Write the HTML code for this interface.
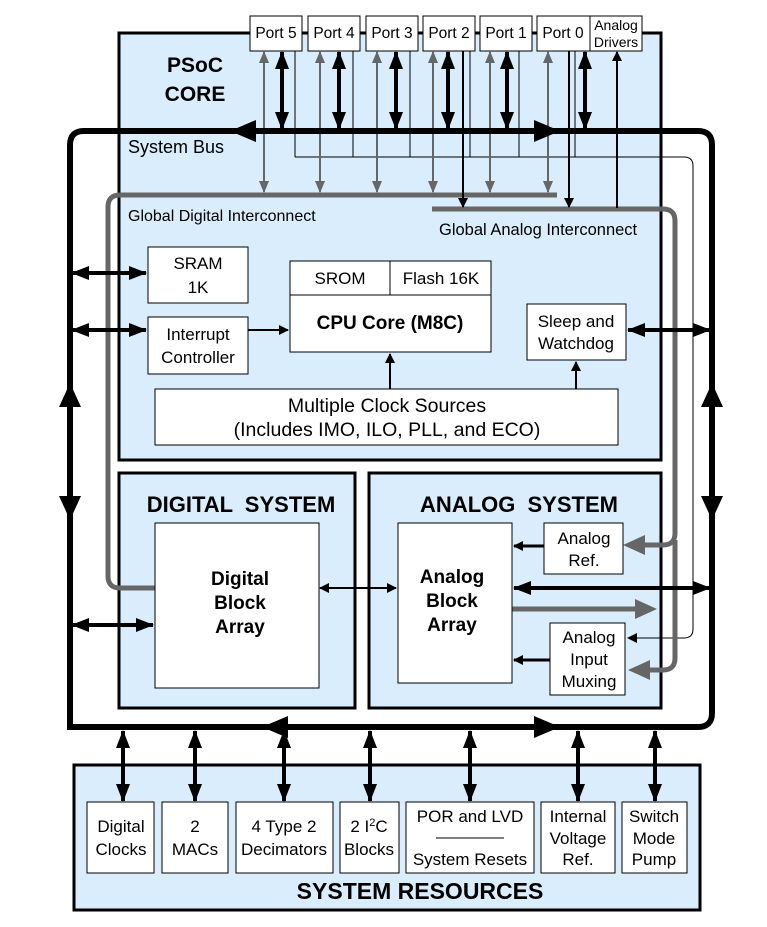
<!DOCTYPE html>
<html><head><meta charset="utf-8"><style>
html,body{margin:0;padding:0;background:#fff;}
svg{display:block;font-family:"Liberation Sans",Arial,sans-serif;}
</style></head><body>
<svg width="767" height="927" viewBox="0 0 767 927" xmlns="http://www.w3.org/2000/svg">
<defs>
<marker id="bk" markerUnits="userSpaceOnUse" markerWidth="18" markerHeight="14" refX="17" refY="7" orient="auto-start-reverse"><path d="M0,0 L18,7 L0,14 Z" fill="#000"/></marker>
<marker id="gy" markerUnits="userSpaceOnUse" markerWidth="12" markerHeight="10" refX="11" refY="5" orient="auto-start-reverse"><path d="M0,0 L12,5 L0,10 Z" fill="#666"/></marker>
<marker id="sm" markerUnits="userSpaceOnUse" markerWidth="10" markerHeight="10" refX="9" refY="5" orient="auto-start-reverse"><path d="M0,0 L10,5 L0,10 Z" fill="#000"/></marker>
</defs>

<rect x="119" y="33" width="542" height="427" fill="#d9edfc" stroke="#000" stroke-width="3"/>
<rect x="119" y="473" width="236" height="235" fill="#d9edfc" stroke="#000" stroke-width="3"/>
<rect x="369" y="473" width="292" height="235" fill="#d9edfc" stroke="#000" stroke-width="3"/>
<rect x="74" y="765" width="626" height="145" fill="#d9edfc" stroke="#000" stroke-width="3"/>

<g fill="#fff" stroke="#000" stroke-width="1">
<rect x="250" y="16" width="52" height="35"/><rect x="308" y="16" width="52" height="35"/>
<rect x="366" y="16" width="52" height="35"/><rect x="423" y="16" width="52" height="35"/>
<rect x="480" y="16" width="52" height="35"/><rect x="537" y="16" width="53" height="35"/>
<rect x="590" y="16" width="52" height="35"/>
</g>
<g font-size="15.5" text-anchor="middle">
<text x="276" y="38">Port 5</text><text x="334" y="38">Port 4</text><text x="392" y="38">Port 3</text>
<text x="449" y="38">Port 2</text><text x="506" y="38">Port 1</text><text x="563" y="38">Port 0</text>
<text x="616" y="30" font-size="14">Analog</text><text x="616" y="47" font-size="14">Drivers</text>
</g>

<text x="195" y="72" font-size="21" font-weight="bold" text-anchor="middle">PSoC</text>
<text x="195" y="101" font-size="21" font-weight="bold" text-anchor="middle">CORE</text>
<text x="128" y="153" font-size="18">System Bus</text>
<text x="128" y="221" font-size="16">Global Digital Interconnect</text>
<text x="439" y="235" font-size="16.5">Global Analog Interconnect</text>

<g stroke="#000" stroke-width="1" fill="none">
<path d="M295,51 V157 M353,51 V157 M410,51 V157 M470,51 V157 M519,51 V157 M575,51 V157"/>
<path d="M295,157 H684 Q693,157 693,166 V629 Q693,638 684,638 H628" marker-end="url(#sm)"/>
</g>

<g stroke="#666" stroke-width="5" fill="none">
<path d="M557,195 H120 Q108,195 108,207 V576 Q108,588 120,588 H155"/>
<path d="M432,209 H663 Q675,209 675,221 V533 Q675,545 663,545 H640"/>
<path d="M675,540 V658 Q675,670 663,670 H640"/>
<path d="M512,609 H640"/>
</g>
<g fill="#666">
<path d="M623,545 L645,535 L645,555 Z"/>
<path d="M628,670 L650,660 L650,680 Z"/>
<path d="M657,609 L635,599 L635,619 Z"/>
</g>

<g stroke="#666" stroke-width="2" marker-start="url(#gy)" marker-end="url(#gy)">
<line x1="264" y1="52" x2="264" y2="192"/><line x1="320" y1="52" x2="320" y2="192"/>
<line x1="377" y1="52" x2="377" y2="192"/><line x1="433" y1="52" x2="433" y2="192"/>
<line x1="490" y1="52" x2="490" y2="192"/><line x1="548" y1="52" x2="548" y2="192"/>
</g>

<path d="M70,727 V145 Q70,131 84,131 H698 Q712,131 712,145 V713 Q712,727 698,727 Z" fill="none" stroke="#000" stroke-width="6"/>
<g fill="#000">
<path d="M230,131 L256,120 L256,142 Z"/><path d="M560,131 L534,120 L534,142 Z"/>
<path d="M262,727 L288,716 L288,738 Z"/><path d="M560,727 L534,716 L534,738 Z"/>
<path d="M70,383 L59,407 L81,407 Z"/><path d="M70,520 L59,496 L81,496 Z"/>
<path d="M712,383 L701,407 L723,407 Z"/><path d="M712,520 L701,496 L723,496 Z"/>
</g>

<g stroke="#000" stroke-width="4" marker-start="url(#bk)" marker-end="url(#bk)">
<line x1="282" y1="52" x2="282" y2="129"/><line x1="339" y1="52" x2="339" y2="129"/>
<line x1="396" y1="52" x2="396" y2="129"/><line x1="448" y1="52" x2="448" y2="129"/>
<line x1="507" y1="52" x2="507" y2="129"/><line x1="585" y1="52" x2="585" y2="129"/>
</g>
<g stroke="#000" stroke-width="2">
<line x1="463" y1="51" x2="463" y2="207" marker-end="url(#sm)"/>
<line x1="569" y1="51" x2="569" y2="207" marker-end="url(#sm)"/>
<line x1="617" y1="208" x2="617" y2="52" marker-end="url(#sm)"/>
</g>

<g fill="#fff" stroke="#000" stroke-width="1">
<rect x="148" y="247" width="100" height="56"/>
<rect x="148" y="317" width="100" height="57"/>
<rect x="290" y="261" width="201" height="91"/>
<line x1="290" y1="295" x2="491" y2="295"/><line x1="390" y1="261" x2="390" y2="295"/>
<rect x="527" y="304" width="99" height="56"/>
<rect x="155" y="389" width="463" height="56"/>
</g>
<g font-size="17" text-anchor="middle">
<text x="198" y="269">SRAM</text><text x="198" y="293">1K</text>
<text x="198" y="340">Interrupt</text><text x="198" y="363">Controller</text>
<text x="340" y="284">SROM</text><text x="441" y="284">Flash 16K</text>
<text x="390" y="329" font-weight="bold" font-size="19">CPU Core (M8C)</text>
<text x="576" y="327">Sleep and</text><text x="576" y="349">Watchdog</text>
<text x="387" y="412" font-size="19.5">Multiple Clock Sources</text>
<text x="387" y="436" font-size="19.5">(Includes IMO, ILO, PLL, and ECO)</text>
</g>
<g stroke="#000" stroke-width="2">
<line x1="248" y1="330" x2="288" y2="330" marker-end="url(#sm)"/>
<line x1="390" y1="389" x2="390" y2="354" marker-end="url(#sm)"/>
<line x1="576" y1="389" x2="576" y2="362" marker-end="url(#sm)"/>
</g>
<g stroke="#000" stroke-width="4" marker-start="url(#bk)" marker-end="url(#bk)">
<line x1="72" y1="273" x2="146" y2="273"/>
<line x1="72" y1="330" x2="146" y2="330"/>
<line x1="628" y1="330" x2="710" y2="330"/>
<line x1="72" y1="625" x2="153" y2="625"/>
<line x1="514" y1="588" x2="710" y2="588"/>
</g>

<text x="241" y="512" font-size="22" font-weight="bold" text-anchor="middle" word-spacing="6">DIGITAL SYSTEM</text>
<text x="519" y="512" font-size="22" font-weight="bold" text-anchor="middle" word-spacing="6">ANALOG SYSTEM</text>
<g fill="#fff" stroke="#000" stroke-width="1">
<rect x="155" y="523" width="164" height="165"/>
<rect x="398" y="523" width="114" height="160"/>
<rect x="544" y="523" width="79" height="51"/>
<rect x="550" y="623" width="75" height="72"/>
</g>
<g font-size="19" font-weight="bold" text-anchor="middle">
<text x="240" y="585">Digital</text><text x="240" y="609">Block</text><text x="240" y="633">Array</text>
<text x="452" y="583">Analog</text><text x="452" y="607">Block</text><text x="452" y="631">Array</text>
</g>
<g font-size="17" text-anchor="middle">
<text x="584" y="544">Analog</text><text x="584" y="566">Ref.</text>
<text x="589" y="643">Analog</text><text x="589" y="665">Input</text><text x="589" y="687">Muxing</text>
</g>
<line x1="320" y1="588" x2="396" y2="588" stroke="#000" stroke-width="2" marker-start="url(#sm)" marker-end="url(#sm)"/>
<g stroke="#000" stroke-width="3" marker-end="url(#sm)">
<line x1="544" y1="546" x2="514" y2="546"/>
<line x1="550" y1="660" x2="514" y2="660"/>
</g>

<g stroke="#000" stroke-width="4" marker-start="url(#bk)" marker-end="url(#bk)">
<line x1="123" y1="731" x2="123" y2="801"/><line x1="195" y1="731" x2="195" y2="801"/>
<line x1="284" y1="731" x2="284" y2="801"/><line x1="370" y1="731" x2="370" y2="801"/>
<line x1="470" y1="731" x2="470" y2="801"/><line x1="578" y1="731" x2="578" y2="801"/>
<line x1="655" y1="731" x2="655" y2="801"/>
</g>
<g fill="#fff" stroke="#000" stroke-width="1">
<rect x="87" y="802" width="67" height="71"/><rect x="162" y="802" width="66" height="71"/>
<rect x="236" y="802" width="97" height="71"/><rect x="340" y="802" width="59" height="71"/>
<rect x="406" y="802" width="128" height="71"/><rect x="541" y="802" width="74" height="71"/>
<rect x="622" y="802" width="65" height="71"/>
</g>
<line x1="436" y1="838" x2="504" y2="838" stroke="#000" stroke-width="1"/>
<g font-size="17" text-anchor="middle">
<text x="121" y="832">Digital</text><text x="121" y="855">Clocks</text>
<text x="195" y="832">2</text><text x="195" y="855">MACs</text>
<text x="284" y="832">4 Type 2</text><text x="284" y="855">Decimators</text>
<text x="369" y="832">2 I<tspan font-size="11" dy="-6">2</tspan><tspan dy="6">C</tspan></text><text x="369" y="855">Blocks</text>
<text x="470" y="822">POR and LVD</text><text x="470" y="865">System Resets</text>
<text x="578" y="822">Internal</text><text x="578" y="844">Voltage</text><text x="578" y="865">Ref.</text>
<text x="654" y="822">Switch</text><text x="654" y="844">Mode</text><text x="654" y="865">Pump</text>
</g>
<text x="420" y="899" font-size="23" font-weight="bold" text-anchor="middle">SYSTEM RESOURCES</text>
</svg>
</body></html>
